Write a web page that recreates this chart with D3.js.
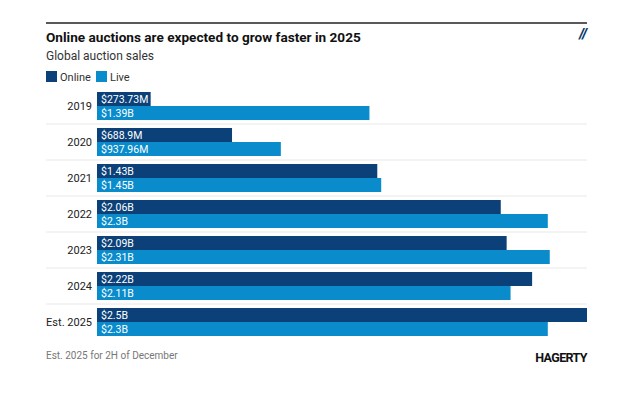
<!DOCTYPE html>
<html>
<head>
<meta charset="utf-8">
<script src="https://cdn.jsdelivr.net/npm/d3@7"></script>
<style>
  body { margin: 0; background: #fff; }
  text { font-family: Roboto, "Noto Sans", sans-serif; }
</style>
</head>
<body>
<script>
// Global auction sales, billions of dollars
var years = ["2019", "2020", "2021", "2022", "2023", "2024", "Est. 2025"];
var series = ["Online", "Live"];
var online = [0.27373, 0.6889, 1.43, 2.06, 2.09, 2.22, 2.5];
var live = [1.39, 0.93796, 1.45, 2.3, 2.31, 2.11, 2.3];
var onlineLabels = ["$273.73M", "$688.9M", "$1.43B", "$2.06B", "$2.09B", "$2.22B", "$2.5B"];
var liveLabels = ["$1.39B", "$937.96M", "$1.45B", "$2.3B", "$2.31B", "$2.11B", "$2.3B"];
var colors = ["#0b4178", "#0a8ccc"];

var width = 640;
var height = 400;
var left = 46;
var right = 587;
var plotLeft = 97;

var svg = d3.select("body")
  .append("svg")
  .attr("width", width)
  .attr("height", height);

// top rule
svg.append("line")
  .attr("x1", left).attr("x2", right)
  .attr("y1", 23).attr("y2", 23)
  .attr("stroke", "#222").attr("stroke-width", 1.5);

svg.append("text")
  .attr("x", left).attr("y", 42)
  .attr("font-size", "13.6px").attr("font-weight", "bold").attr("fill", "#111")
  .text("Online auctions are expected to grow faster in 2025");

svg.append("text")
  .attr("x", left).attr("y", 60)
  .attr("font-size", "12px").attr("fill", "#333")
  .text("Global auction sales");

// little slash mark top right
svg.append("text")
  .attr("x", right).attr("y", 39)
  .attr("text-anchor", "end")
  .attr("font-size", "14px").attr("font-weight", "900").attr("font-style", "italic")
  .attr("fill", "#0b3a66")
  .text("//");

// legend
var legend = svg.append("g").attr("transform", "translate(" + left + ",71)");
var legX = [0, 50];
series.forEach(function(s, i) {
  legend.append("rect")
    .attr("x", legX[i]).attr("y", 0)
    .attr("width", 11).attr("height", 11)
    .attr("fill", colors[i]);
  legend.append("text")
    .attr("x", legX[i] + 14).attr("y", 9.5)
    .attr("font-size", "11px").attr("fill", "#333")
    .text(s);
});

var xScale = d3.scaleLinear()
  .domain([0, 2.5])
  .range([plotLeft, right]);

var yScale = d3.scaleBand()
  .domain(years)
  .range([88, 340])
  .paddingInner(0.222)
  .paddingOuter(0.111);

var ySub = d3.scaleBand()
  .domain(series)
  .range([0, yScale.bandwidth()]);

// separators between groups
svg.selectAll(".sep")
  .data(years.slice(1))
  .enter()
  .append("line")
  .attr("class", "sep")
  .attr("x1", left).attr("x2", right)
  .attr("y1", function(d) { return yScale(d) - yScale.step() * yScale.paddingInner() / 2; })
  .attr("y2", function(d) { return yScale(d) - yScale.step() * yScale.paddingInner() / 2; })
  .attr("stroke", "#e8e8e8").attr("stroke-width", 1);

var rows = years.map(function(y, i) {
  return { year: y, values: [online[i], live[i]], labels: [onlineLabels[i], liveLabels[i]] };
});

var group = svg.selectAll(".grp")
  .data(rows)
  .enter()
  .append("g")
  .attr("class", "grp")
  .attr("transform", function(d) { return "translate(0," + yScale(d.year) + ")"; });

group.append("text")
  .attr("x", plotLeft - 5)
  .attr("y", yScale.bandwidth() / 2 + 4)
  .attr("text-anchor", "end")
  .attr("font-size", "11px").attr("fill", "#222")
  .text(function(d) { return d.year; });

series.forEach(function(s, i) {
  group.append("rect")
    .attr("x", xScale(0))
    .attr("y", ySub(s))
    .attr("width", function(d) { return xScale(d.values[i]) - xScale(0); })
    .attr("height", ySub.bandwidth())
    .attr("fill", colors[i]);

  group.append("text")
    .attr("x", xScale(0) + 4)
    .attr("y", ySub(s) + ySub.bandwidth() / 2 + 3.8)
    .attr("font-size", "10.5px").attr("fill", "#fff")
    .text(function(d) { return d.labels[i]; });
});

// footer
svg.append("text")
  .attr("x", left).attr("y", 359)
  .attr("font-size", "10px").attr("fill", "#777")
  .text("Est. 2025 for 2H of December");

svg.append("text")
  .attr("x", right).attr("y", 362)
  .attr("text-anchor", "end")
  .attr("font-size", "12.5px").attr("font-weight", "bold").attr("fill", "#111")
  .attr("font-family", "'Liberation Sans Narrow', 'DejaVu Sans Condensed', sans-serif")
  .attr("letter-spacing", "-0.6")
  .text("HAGERTY");
</script>
</body>
</html>
